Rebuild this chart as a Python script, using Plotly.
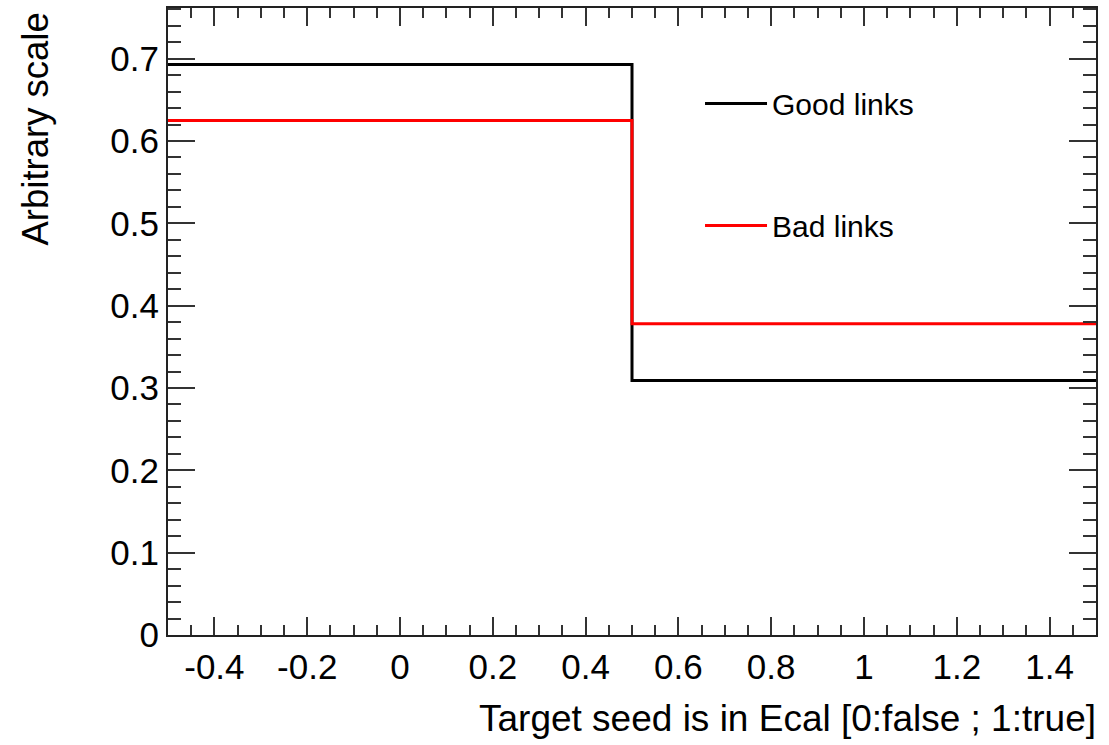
import plotly.graph_objects as go

# Histogram data (two bins)
bin_edges = [-0.5, 0.5, 1.5]
good_links = [0.693, 0.309]
bad_links = [0.625, 0.378]

x_tick_vals = [-0.4, -0.2, 0, 0.2, 0.4, 0.6, 0.8, 1.0, 1.2, 1.4]
x_tick_text = ["-0.4", "-0.2", "0", "0.2", "0.4", "0.6", "0.8", "1", "1.2", "1.4"]
y_tick_vals = [0, 0.1, 0.2, 0.3, 0.4, 0.5, 0.6, 0.7]
y_tick_text = ["0", "0.1", "0.2", "0.3", "0.4", "0.5", "0.6", "0.7"]

FONT = "Liberation Sans, Arial, sans-serif"

fig = go.Figure()
fig.add_trace(go.Scatter(
    x=bin_edges, y=good_links + [good_links[-1]],
    mode="lines", line=dict(color="black", width=3, shape="hv"),
    name="Good links", legendgroup="g1",
))
fig.add_trace(go.Scatter(
    x=bin_edges, y=bad_links + [bad_links[-1]],
    mode="lines", line=dict(color="#ff0000", width=3, shape="hv"),
    name="Bad links", legendgroup="g2",
))

axis_common = dict(
    showline=True, linecolor="#222222", linewidth=2, mirror="ticks",
    ticks="inside", tickcolor="#333333", tickwidth=2,
    showgrid=False, zeroline=False,
    tickfont=dict(family=FONT, size=35, color="black"),
)

fig.update_xaxes(
    range=[-0.5, 1.5], tickmode="array", tickvals=x_tick_vals, ticktext=x_tick_text,
    ticklen=18,
    minor=dict(dtick=0.05, tick0=0, ticks="inside", ticklen=10, tickwidth=2, tickcolor="#333333"),
    **axis_common,
)
fig.update_yaxes(
    range=[0, 0.7615], tickmode="array", tickvals=y_tick_vals, ticktext=y_tick_text,
    ticklen=27,
    minor=dict(dtick=0.02, tick0=0, ticks="inside", ticklen=13, tickwidth=2, tickcolor="#333333"),
    **axis_common,
)

fig.update_layout(
    width=1109, height=745,
    margin=dict(l=168, r=13, t=6, b=110),
    paper_bgcolor="white", plot_bgcolor="white",
    showlegend=True,
    legend=dict(
        x=0.5733, y=0.889, xanchor="left", yanchor="top",
        bgcolor="rgba(0,0,0,0)", borderwidth=0,
        font=dict(family=FONT, size=30, color="black"),
        tracegroupgap=80, traceorder="grouped", itemwidth=62,
    ),
    annotations=[
        dict(text="Target seed is in Ecal [0:false ; 1:true]", xref="paper", yref="paper",
             x=1, y=0, xanchor="right", yanchor="top", xshift=2, yshift=-61, showarrow=False,
             font=dict(family=FONT, size=37, color="black")),
        dict(text="Arbitrary scale", xref="paper", yref="paper", textangle=-90,
             x=0, y=1, xanchor="center", yanchor="top", xshift=-133, yshift=-3, showarrow=False,
             font=dict(family=FONT, size=36.5, color="black")),
    ],
)

fig.write_html("out.html")
